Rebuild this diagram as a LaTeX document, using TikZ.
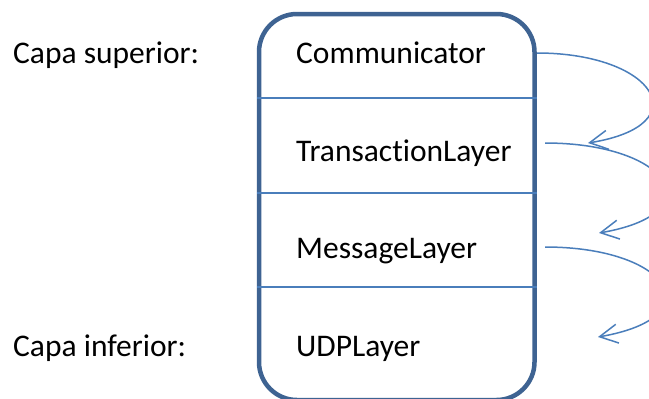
\documentclass[tikz,border=0pt]{standalone}
\usepackage{fontspec}
\setmainfont{Carlito}[Ligatures=NoCommon]
\usetikzlibrary{arrows.meta}
\definecolor{frameblue}{RGB}{62,99,146}
\definecolor{lineblue}{RGB}{74,126,187}
\tikzset{
  layertext/.style={anchor=base west, inner sep=0pt, font=\fontsize{31.5bp}{38bp}\selectfont},
  stackbox/.style={draw=frameblue, line width=4.5bp, rounded corners=38bp, inner sep=0pt},
  divider/.style={draw=lineblue, line width=1.4bp},
  callarrow/.style={draw=lineblue, line width=1.5bp, -{Straight Barb[length=18bp,width=19bp]}}
}
\begin{document}
\begin{tikzpicture}[x=1bp, y=-1bp]
  \useasboundingbox (0,0) rectangle (649,398);

  % the layered stack
  \node[stackbox, minimum width=275.5bp, minimum height=386bp] (stack) at (396.75,207) {};
  \foreach \yy/\nm in {98/d1, 193/d2, 287/d3}
    \draw[divider] (stack.west |- 0,\yy) coordinate (\nm w) -- (stack.east |- 0,\yy) coordinate (\nm e);

  % layer names
  \node[layertext] (comm) at (296,63)  {Communicator};
  \node[layertext] (trans) at (296,161) {TransactionLayer};
  \node[layertext] (msg) at (296,258) {MessageLayer};
  \node[layertext] (udp) at (296,356) {UDPLayer};

  % side labels
  \node[layertext] (sup) at (13,63)  {Capa superior:};
  \node[layertext] (inf) at (13,356) {Capa inferior:};

  % calls passing down the stack
  \coordinate (c1s) at (537,53);
  \coordinate (c1e) at (588,143);
  \coordinate (c2s) at (545,143);
  \coordinate (c2e) at (599,233);
  \coordinate (c3s) at (545,247);
  \coordinate (c3e) at (598,337);
  \draw[callarrow] (c1s) .. controls (655,53) and (700,125) .. (c1e);
  \draw[callarrow] (c2s) .. controls (670,143) and (715,213) .. (c2e);
  \draw[callarrow] (c3s) .. controls (670,247) and (714,317) .. (c3e);
\end{tikzpicture}
\end{document}
